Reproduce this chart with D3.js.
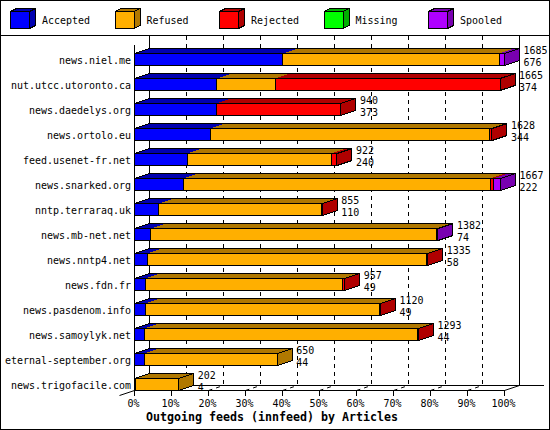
<!DOCTYPE html>
<html><head><meta charset="utf-8">
<script src="https://cdn.jsdelivr.net/npm/d3@7"></script>
<style>
body{margin:0;background:#fff}
svg{display:block}
text{font-family:"DejaVu Sans Mono",monospace;fill:#000}
</style>
</head><body>
<svg id="c" width="550" height="430" shape-rendering="crispEdges"></svg>
<script>
const categories = ["news.niel.me","nut.utcc.utoronto.ca","news.daedelys.org","news.ortolo.eu","feed.usenet-fr.net","news.snarked.org","nntp.terraraq.uk","news.mb-net.net","news.nntp4.net","news.fdn.fr","news.pasdenom.info","news.samoylyk.net","eternal-september.org","news.trigofacile.com"];
const offered  = [1685,1665,940,1628,922,1667,855,1382,1335,957,1120,1293,650,202];
const accepted = [676,374,373,344,240,222,110,74,58,49,49,44,44,4];
const refused  = [986,268,0,1273,657,1399,740,1303,1274,900,1068,1246,606,198];
const rejected = [0,1023,567,11,25,12,5,0,3,8,3,3,0,0];
const missing  = [0,0,0,0,0,0,0,0,0,0,0,0,0,0];
const spooled  = [23,0,0,0,0,34,0,5,0,0,0,0,0,0];
const seriesNames  = ["Accepted","Refused","Rejected","Missing","Spooled"];
const seriesColors = ["#0000FF","#FFAF00","#FF0000","#00FF00","#AF00FF"];
const seriesDark   = ["#0000B0","#B07800","#B00000","#00B000","#7800B0"];
const tickValues = [0,10,20,30,40,50,60,70,80,90,100];
const tickLabels = ["0%","10%","20%","30%","40%","50%","60%","70%","80%","90%","100%"];
const title = "Outgoing feeds (innfeed) by Articles";

const svg = d3.select("#c");
const DX = 15, DY = 5;

function txt(g, str, xx, yy, anchor, opts) {
  opts = opts || {};
  const cw = opts.cw || 6;
  const w = str.length * cw;
  const x0 = anchor === "end" ? xx - w : anchor === "middle" ? xx - w / 2 : xx;
  return g.append("text").attr("x", x0).attr("y", yy)
    .attr("font-size", opts.size || 10.5)
    .attr("font-weight", opts.bold ? "bold" : null)
    .attr("textLength", w).attr("lengthAdjust", "spacingAndGlyphs")
    .style("shape-rendering", "auto")
    .text(str);
}

// frame
svg.append("rect").attr("x", 0.5).attr("y", 0.5).attr("width", 549).attr("height", 429)
  .attr("fill", "#fff").attr("stroke", "#000");
svg.append("line").attr("x1", 0).attr("x2", 550).attr("y1", 35.5).attr("y2", 35.5).attr("stroke", "#000");

// legend
const lx = d3.scalePoint().domain(seriesNames).range([10, 428]);
const lg = svg.append("g");
seriesNames.forEach((n, i) => {
  const x0 = lx(n) + 0.5, x1 = x0 + 19, yt = 11.5, yb = 28.5, dx = 6, dy = 3;
  lg.append("polygon").attr("points", [[x0, yt], [x1, yt], [x1 + dx, yt - dy], [x0 + dx, yt - dy]].join(" "))
    .attr("fill", seriesDark[i]).attr("stroke", "#000");
  lg.append("polygon").attr("points", [[x1, yt], [x1 + dx, yt - dy], [x1 + dx, yb - dy], [x1, yb]].join(" "))
    .attr("fill", seriesDark[i]).attr("stroke", "#000");
  lg.append("rect").attr("x", x0).attr("y", yt).attr("width", 19).attr("height", 17)
    .attr("fill", seriesColors[i]).attr("stroke", "#000");
  txt(lg, n, lx(n) + 32, 24, "start");
});

// scales
const maxOffered = d3.max(offered);
const x = d3.scaleLinear().domain([0, 100]).range([134.5, 504.5]);
const y = d3.scaleBand().domain(categories).range([40, 403]).paddingInner(0.52).paddingOuter(0.52);

const floorFront = 390.5, floorBack = floorFront - DY;
const axisG = svg.append("g");
// back wall grid lines + floor grid
tickValues.slice(1, -1).forEach(t => {
  axisG.append("line").attr("x1", x(t) + DX).attr("x2", x(t) + DX).attr("y1", 36).attr("y2", floorBack)
    .attr("stroke", "#000").attr("stroke-dasharray", "4,4");
  axisG.append("line").attr("x1", x(t)).attr("x2", x(t) + DX).attr("y1", floorFront).attr("y2", floorBack)
    .attr("stroke", "#000").attr("stroke-dasharray", "4,4").style("shape-rendering", "auto");
});
// walls
axisG.append("line").attr("x1", x(0) + DX).attr("x2", x(0) + DX).attr("y1", 36).attr("y2", floorBack).attr("stroke", "#000");
axisG.append("line").attr("x1", x(100) + DX).attr("x2", x(100) + DX).attr("y1", 36).attr("y2", floorBack).attr("stroke", "#000");
axisG.append("line").attr("x1", x(0)).attr("x2", x(0)).attr("y1", 45).attr("y2", floorFront + 5).attr("stroke", "#000");
// floor
axisG.append("line").attr("x1", x(0) + DX).attr("x2", x(100) + DX + 24).attr("y1", floorBack).attr("y2", floorBack).attr("stroke", "#000");
axisG.append("line").attr("x1", x(0)).attr("x2", x(100)).attr("y1", floorFront).attr("y2", floorFront).attr("stroke", "#000");
axisG.append("line").attr("x1", x(100)).attr("x2", x(100) + DX).attr("y1", floorFront).attr("y2", floorBack).attr("stroke", "#000").style("shape-rendering", "auto");
axisG.append("line").attr("x1", x(0) - DX).attr("x2", x(0)).attr("y1", floorFront + DY).attr("y2", floorFront).attr("stroke", "#000").style("shape-rendering", "auto");
// ticks + labels
tickValues.forEach((t, i) => {
  axisG.append("line").attr("x1", x(t)).attr("x2", x(t)).attr("y1", floorFront).attr("y2", floorFront + 5).attr("stroke", "#000");
  txt(axisG, tickLabels[i], x(t) - 1, 407, "middle");
});
txt(svg, title, 146, 421, "start", {bold: true, size: 11.5, cw: 7});

// bars
const barG = svg.append("g");
categories.forEach((c, i) => {
  const vals = [accepted[i], refused[i], rejected[i], missing[i], spooled[i]];
  const yt = y(c) + 0.5, yb = yt + y.bandwidth();
  let cum = 0;
  let last = 0;
  const bounds = [];
  vals.forEach((v, s) => {
    if (v <= 0) return;
    const x0 = x(cum / maxOffered * 100);
    cum += v;
    const x1 = x(cum / maxOffered * 100);
    last = s;
    barG.append("rect").attr("x", x0).attr("y", yt).attr("width", x1 - x0).attr("height", yb - yt)
      .attr("fill", seriesColors[s]);
    barG.append("polygon").attr("points", [[x0, yt], [x1, yt], [x1 + DX, yt - DY], [x0 + DX, yt - DY]].join(" "))
      .attr("fill", seriesDark[s]);
    bounds.push(x1);
  });
  const xs = x(0), xe = x(cum / maxOffered * 100);
  barG.append("polygon").attr("points", [[xs, yt], [xe, yt], [xe + DX, yt - DY], [xs + DX, yt - DY]].join(" "))
    .attr("fill", "none").attr("stroke", "#000");
  barG.append("polygon").attr("points", [[xe, yt], [xe + DX, yt - DY], [xe + DX, yb - DY], [xe, yb]].join(" "))
    .attr("fill", seriesDark[last]).attr("stroke", "#000");
  barG.append("rect").attr("x", xs).attr("y", yt).attr("width", xe - xs).attr("height", yb - yt)
    .attr("fill", "none").attr("stroke", "#000");
  bounds.slice(0, -1).forEach(bx => {
    barG.append("line").attr("x1", bx).attr("x2", bx).attr("y1", yt).attr("y2", yb).attr("stroke", "#000");
  });
  txt(barG, c, 131, y(c) + 11, "end");
  txt(barG, String(offered[i]), xe + DX + 4, y(c) + 1, "start");
  txt(barG, String(accepted[i]), xe + DX + 4, y(c) + 12.5, "start");
});
</script>
</body></html>
